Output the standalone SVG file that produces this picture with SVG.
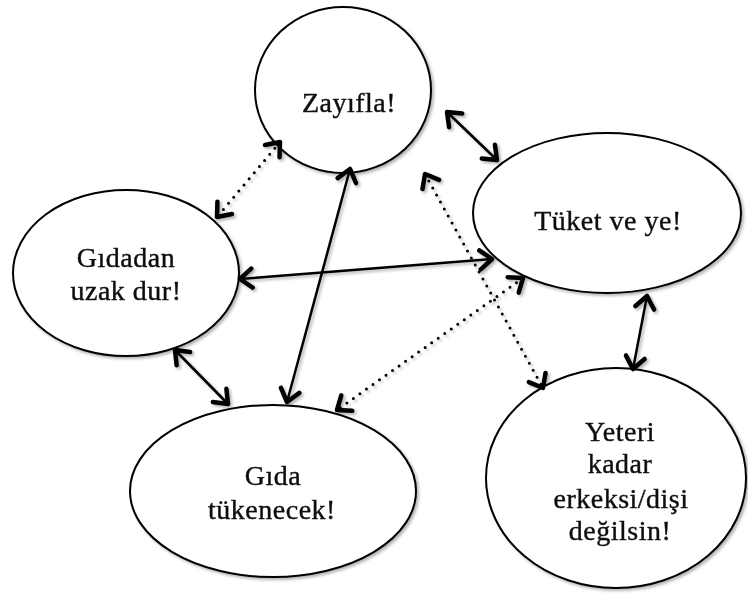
<svg xmlns="http://www.w3.org/2000/svg" width="748" height="601" viewBox="0 0 748 601">
<style>
.node{fill:#fff;stroke:#000;stroke-width:2}
.lbl{font-family:"Liberation Serif","Times New Roman",serif;font-size:28px;letter-spacing:0.5px;fill:#111;stroke:#111;stroke-width:0.4;text-anchor:middle}
.solid{stroke:#000;stroke-width:2.5;fill:none}
.dot{stroke:#000;stroke-width:3;fill:none;stroke-dasharray:0 8;stroke-linecap:round}
</style>
<defs>
<filter id="sh" x="-10%" y="-10%" width="130%" height="130%">
<feDropShadow dx="2" dy="2" stdDeviation="1.5" flood-color="#000" flood-opacity="0.3"/>
</filter>
<marker id="ah" viewBox="0 0 18 24" refX="15" refY="12" markerWidth="18" markerHeight="24" markerUnits="userSpaceOnUse" orient="auto-start-reverse">
<path d="M3,2.5 L15,12 L3,21.5" fill="none" stroke="#000" stroke-width="4.5" stroke-linecap="round" stroke-linejoin="round"/>
</marker>
</defs>
<rect width="748" height="601" fill="#fff"/>
<g filter="url(#sh)">
<g id="zayifla">
<ellipse class="node" cx="343" cy="90" rx="88" ry="83"/>
<text class="lbl" x="349" y="112">Zayıfla!</text>
</g>
<g id="tuket">
<ellipse class="node" cx="607" cy="213" rx="134" ry="80"/>
<text class="lbl" x="608" y="230">Tüket ve ye!</text>
</g>
<g id="gidadan">
<ellipse class="node" cx="126" cy="273" rx="113" ry="83"/>
<text class="lbl" x="126" y="267">Gıdadan</text>
<text class="lbl" x="126" y="300">uzak dur!</text>
</g>
<g id="gida">
<ellipse class="node" cx="273" cy="491" rx="143" ry="86"/>
<text class="lbl" x="273" y="485">Gıda</text>
<text class="lbl" x="272" y="519">tükenecek!</text>
</g>
<g id="yeteri">
<ellipse class="node" cx="616" cy="478" rx="130" ry="110"/>
<text class="lbl" x="620" y="441">Yeteri</text>
<text class="lbl" x="620" y="473">kadar</text>
<text class="lbl" x="621" y="508">erkeksi/dişi</text>
<text class="lbl" x="620" y="540">değilsin!</text>
</g>
<g id="connectors">
<line class="solid" x1="447" y1="112" x2="497" y2="160" marker-start="url(#ah)" marker-end="url(#ah)"/>
<line class="dot" x1="280" y1="142" x2="217" y2="217" marker-start="url(#ah)" marker-end="url(#ah)"/>
<line class="solid" x1="240" y1="279" x2="492" y2="259" marker-start="url(#ah)" marker-end="url(#ah)"/>
<line class="solid" x1="350" y1="169" x2="287" y2="402" marker-start="url(#ah)" marker-end="url(#ah)"/>
<line class="solid" x1="175" y1="350" x2="228" y2="404" marker-start="url(#ah)" marker-end="url(#ah)"/>
<line class="dot" x1="523" y1="278" x2="337" y2="410" marker-start="url(#ah)" marker-end="url(#ah)"/>
<line class="dot" x1="425" y1="174" x2="543" y2="388" marker-start="url(#ah)" marker-end="url(#ah)"/>
<line class="solid" x1="647" y1="296" x2="633" y2="369" marker-start="url(#ah)" marker-end="url(#ah)"/>
</g>
</g>
</svg>
